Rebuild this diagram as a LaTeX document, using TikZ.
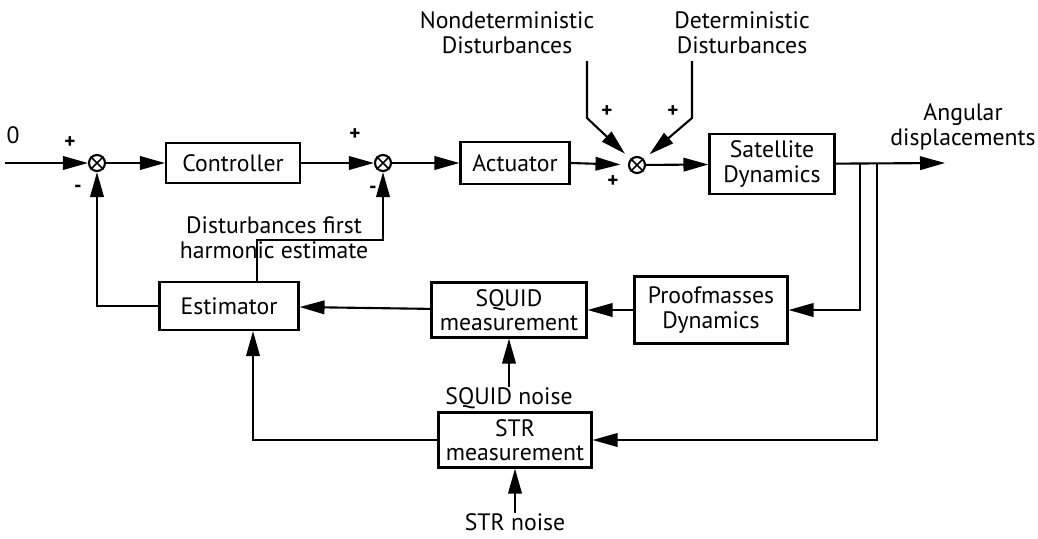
\documentclass[tikz,border=0pt]{standalone}
\usepackage{fontspec}
\setmainfont{PT Sans}
\usetikzlibrary{arrows.meta,calc}
\tikzset{box/.style={draw,line width=1.2pt,align=center,font=\fontsize{13.5}{14}\selectfont,inner sep=1pt},arr/.style={-{Triangle[length=5mm,width=2.7mm]},line width=1.2pt},sum/.style={draw,circle,line width=1.2pt,minimum size=3.2mm,inner sep=0pt},sgn/.style={font=\large\bfseries,inner sep=0pt},lbl/.style={align=center,font=\fontsize{13.5}{14}\selectfont,inner sep=0pt}}

\begin{document}
\begin{tikzpicture}[x=0.02cm,y=-0.02cm]
\useasboundingbox (0,0) rectangle (1038,538);
% forward path
\node[sum] (s1) at (97,163){};
\node[box,minimum width=2.68cm,minimum height=0.8cm] (ctrl) at (233,163){Controller};
\node[sum] (s2) at (383,163){};
\node[box,minimum width=2.18cm,minimum height=0.84cm] (act) at (515,163){Actuator};
\node[sum] (s3) at (637,165){};
\node[box,minimum width=2.5cm,minimum height=1.2cm] (sat) at (772,164){Satellite\\Dynamics};
\foreach \s in {s1,s2,s3} \draw[line width=0.9pt] (\s.45)--(\s.225) (\s.135)--(\s.315);
% measurement row
\node[box,minimum width=2.78cm,minimum height=0.96cm] (est) at (229,306){Estimator};
\node[box,minimum width=3.1cm,minimum height=1.1cm] (squid) at (509,310){SQUID\\measurement};
\node[box,minimum width=3.06cm,minimum height=1.34cm] (proof) at (711,310){Proofmasses\\Dynamics};
\node[box,minimum width=3.06cm,minimum height=1.1cm] (str) at (515,440){STR\\measurement};
% texts
\node[lbl] (zero) at (13,135){0};
\node[lbl] (nd) at (507,33){Nondeterministic\\Disturbances};
\node[lbl] (dd) at (742,33){Deterministic\\Disturbances};
\node[lbl] (ang) at (963,127){Angular\\displacements};
\node[lbl] (dh) at (274,238){Disturbances first\\harmonic estimate};
\node[lbl] (sqn) at (509,398){SQUID noise};
\node[lbl] (strn) at (515,522){STR noise};
\node[sgn] (p1) at (70,143){+};
\node[sgn] (m1) at (78,189){-};
\node[sgn] (p2) at (355,135){+};
\node[sgn] (m2) at (373,190){-};
\node[sgn] (p3) at (607,112){+};
\node[sgn] (p4) at (673,112){+};
\node[sgn] (p5) at (613,182){+};
% free ends
\coordinate (in) at (5,163);
\coordinate (out) at (945,163);
\coordinate (nda) at (587,61);
\coordinate (ndb) at (587,118);
\coordinate (dda) at (692,61);
\coordinate (ddb) at (692,118);
\coordinate (t1) at (860,163);
\coordinate (t2) at (877,163);
\coordinate (fb) at (383,240);
\draw[arr] (in) -- (s1);
\draw[arr] (s1) -- (ctrl);
\draw[arr] (ctrl) -- (s2);
\draw[arr] (s2) -- (act);
\draw[arr,shorten >=1.5mm] (act.east) -- (s3);
\draw[arr] (s3) -- (sat);
\draw[arr,shorten >=1.5mm] (nda) -- (ndb) -- (s3);
\draw[arr,shorten >=1.5mm] (dda) -- (ddb) -- (s3);
\draw[arr] (sat) -- (out);
\draw[arr] (t1) |- (proof);
\draw[arr] (t2) |- (str);
\draw[arr] (proof) -- (squid);
\draw[arr] (squid) -- (est);
\draw[arr] (sqn) -- (squid);
\draw[arr] (strn) -- (str);
\draw[arr] (str.west) -| ($(est.south)+(24,0)$);
\draw[arr] (est.west) -| (s1);
\draw[arr] ($(est.north)+(28,0)$) |- (fb) -- (s2);
\end{tikzpicture}
\end{document}
